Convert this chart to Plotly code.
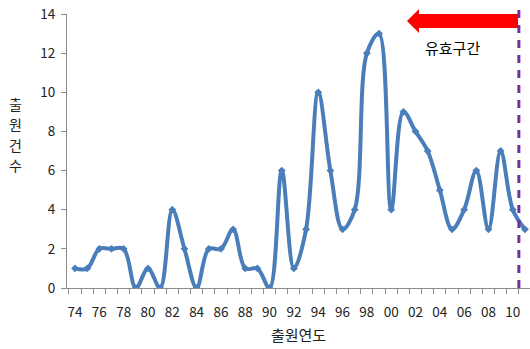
import plotly.graph_objects as go

years = list(range(1974, 2012))
counts = [1, 1, 2, 2, 2, 0, 1, 0, 4, 2, 0, 2, 2, 3, 1, 1, 0, 6, 1, 3,
          10, 6, 3, 4, 12, 13, 4, 9, 8, 7, 5, 3, 4, 6, 3, 7, 4, 3]
tick_years = list(range(1974, 2011, 2))
tick_labels = [str(y)[2:] for y in tick_years]
boundary_years = [y - 0.5 for y in range(1974, 2012)]
cutoff_year = 2010.5
y_title_chars = ["출", "원", "건", "수"]

L, T, W, H = 67, 14, 463, 274

def px(x):
    return (x - L) / W

def py(y):
    return (T + H - y) / H

fig = go.Figure()
fig.add_trace(go.Scatter(
    x=years, y=counts, mode="lines+markers",
    line=dict(color="#4A7EBB", width=4, shape="spline", smoothing=1.0),
    marker=dict(symbol="diamond", size=6, color="#4A7EBB"),
    showlegend=False, hoverinfo="skip"))

# dashed cutoff line
fig.add_shape(type="line", xref="x", yref="paper", x0=cutoff_year, x1=cutoff_year,
              y0=0, y1=py(9), line=dict(color="#7030A0", width=3, dash="8px,7px"))

# red arrow (paper coordinates)
pts = [(407, 21), (419, 9), (419, 14), (518, 14), (518, 28), (419, 28), (419, 33)]
path = "M " + " L ".join(f"{px(a):.4f},{py(b):.4f}" for a, b in pts) + " Z"
fig.add_shape(type="path", xref="paper", yref="paper", path=path,
              fillcolor="#FF0000", line=dict(width=0))

fig.add_annotation(xref="paper", yref="paper", x=px(452), y=py(48),
                   text="유효구간", showarrow=False,
                   font=dict(family="Noto Sans CJK KR", size=15, color="#000000"),
                   xanchor="center", yanchor="middle")

# y-axis title stacked vertically
for i, ch in enumerate(y_title_chars):
    fig.add_annotation(xref="paper", yref="paper", x=px(15), y=py(104 + 20.3 * i),
                       text=ch, showarrow=False,
                       font=dict(family="Noto Sans CJK KR", size=14, color="#222222"),
                       xanchor="center", yanchor="middle")

fig.update_layout(
    width=530, height=349,
    margin=dict(l=L, r=530 - L - W, t=T, b=349 - T - H, autoexpand=False),
    paper_bgcolor="white", plot_bgcolor="white",
    font=dict(family="Noto Sans CJK KR", size=13, color="#222222"),
    xaxis=dict(
        range=[1973.34, 1973.34 + W / 12.16],
        tickvals=tick_years, ticktext=tick_labels,
        ticks="", showgrid=False, zeroline=False,
        showline=True, linecolor="#8C8C8C", linewidth=1,
        tickfont=dict(size=13.5, color="#222222"),
        ticklabelstandoff=12,
        minor=dict(tickvals=boundary_years, ticks="outside", ticklen=5,
                   tickcolor="#8C8C8C", showgrid=False),
        title=dict(text="출원연도", font=dict(size=15, color="#222222"), standoff=10),
    ),
    yaxis=dict(
        range=[0, 14], tickvals=list(range(0, 15, 2)),
        ticks="outside", ticklen=5, tickcolor="#8C8C8C",
        showgrid=False, zeroline=False,
        showline=True, linecolor="#8C8C8C", linewidth=1,
        tickfont=dict(size=13.5, color="#222222"),
        ticklabelstandoff=3,
    ),
)

fig.write_html("out.html", config={"displayModeBar": False},
               post_script="document.body.style.margin='0';document.body.style.overflow='hidden';")
